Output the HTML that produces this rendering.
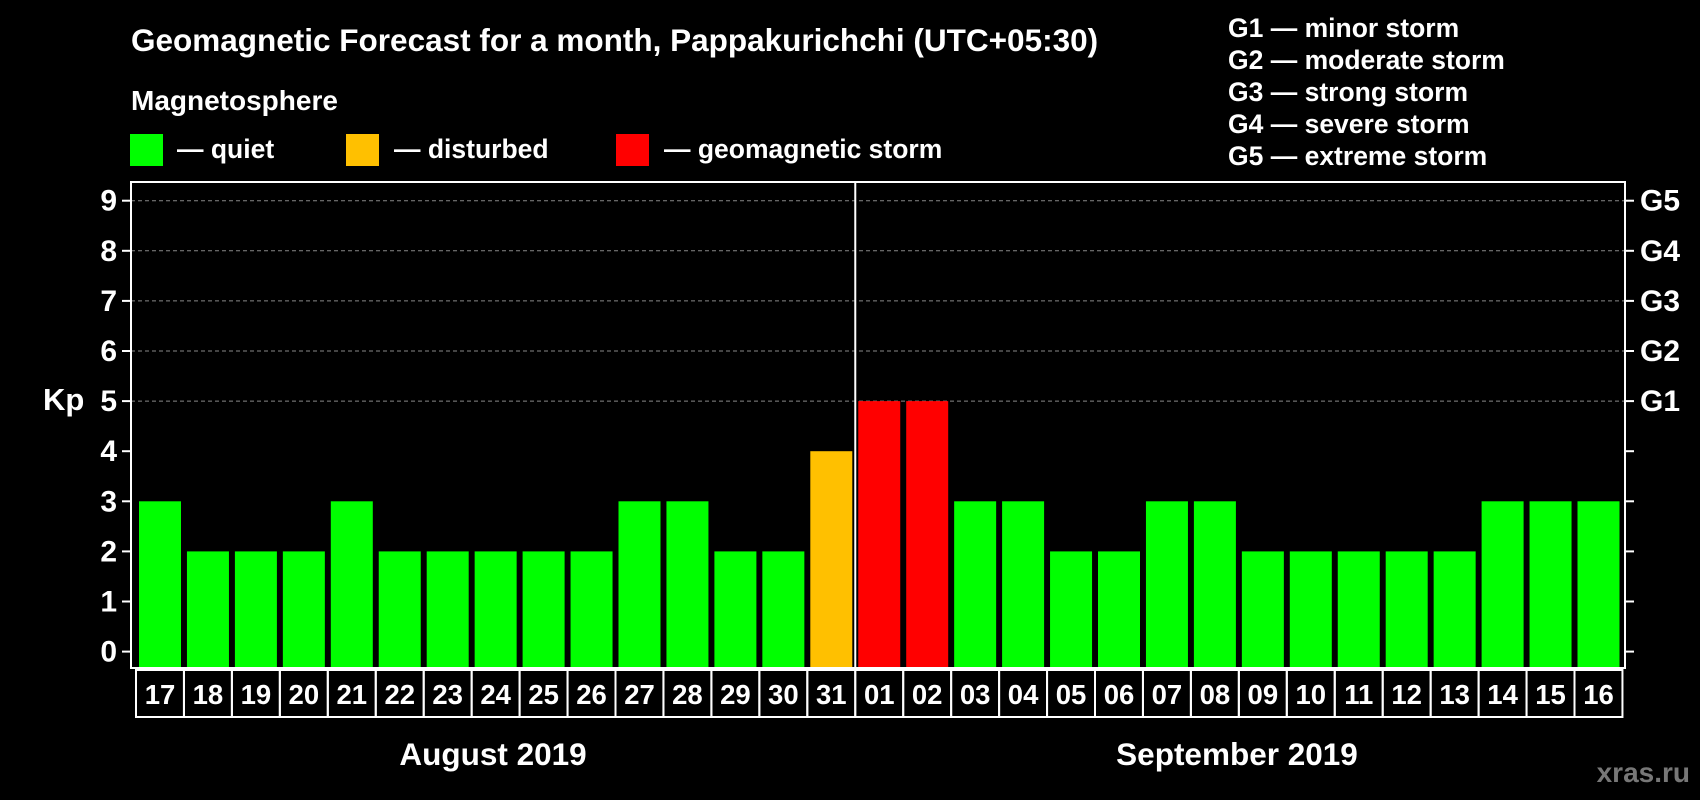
<!DOCTYPE html>
<html><head><meta charset="utf-8"><style>
html,body{margin:0;padding:0;background:#000;width:1700px;height:800px;overflow:hidden}
svg{display:block;font-family:"Liberation Sans",Arial,sans-serif;font-weight:bold}
</style></head><body>
<svg id="chart" width="1700" height="800" viewBox="0 0 1700 800">
<text x="131" y="51" fill="#fff" font-size="31.5">Geomagnetic Forecast for a month, Pappakurichchi (UTC+05:30)</text>
<text x="131" y="110" fill="#fff" font-size="28">Magnetosphere</text>
<rect x="130" y="134" width="33" height="32" fill="#00ff00"/>
<text x="177" y="158" fill="#fff" font-size="26.5">— quiet</text>
<rect x="346" y="134" width="33" height="32" fill="#ffc000"/>
<text x="394" y="158" fill="#fff" font-size="26.5">— disturbed</text>
<rect x="616" y="134" width="33" height="32" fill="#ff0000"/>
<text x="664" y="158" fill="#fff" font-size="26.5">— geomagnetic storm</text>
<g fill="#fff" font-size="26.5">
<text x="1228" y="37">G1 — minor storm</text>
<text x="1228" y="69">G2 — moderate storm</text>
<text x="1228" y="101">G3 — strong storm</text>
<text x="1228" y="133">G4 — severe storm</text>
<text x="1228" y="165">G5 — extreme storm</text>
</g>
<text x="43" y="410" fill="#fff" font-size="31">Kp</text>
<g id="grid"></g><g id="bars"></g><g id="axes"></g>
<text x="493" y="765" fill="#fff" font-size="31.5" text-anchor="middle">August 2019</text>
<text x="1237" y="765" fill="#fff" font-size="31.5" text-anchor="middle">September 2019</text>
<text x="1690" y="782" fill="#777" font-size="28" text-anchor="end">xras.ru</text>
</svg>
<script>
const days=["17","18","19","20","21","22","23","24","25","26","27","28","29","30","31","01","02","03","04","05","06","07","08","09","10","11","12","13","14","15","16"];
const kp=[3,2,2,2,3,2,2,2,2,2,3,3,2,2,4,5,5,3,3,2,2,3,3,2,2,2,2,2,3,3,3];
const yTicks=[0,1,2,3,4,5,6,7,8,9];
const gLabels=["G1","G2","G3","G4","G5"];
const NS="http://www.w3.org/2000/svg";
const L=131,R=1625,T=182,B=668,pitch=47.95,x0=139,bw=42;
const y=v=>651.6-v*50.1;
const xb=i=>x0+i*pitch;
function mk(t,a,p){const e=document.createElementNS(NS,t);for(const k in a)e.setAttribute(k,a[k]);p.appendChild(e);return e;}
const grid=document.getElementById('grid'),bars=document.getElementById('bars'),axes=document.getElementById('axes');
yTicks.forEach(v=>{
 if(v>=5){const g=mk('line',{x1:L,x2:R,y1:y(v),y2:y(v),stroke:'#888','stroke-dasharray':'4 3','stroke-width':1},grid);
 
 }
 mk('line',{x1:L-9,x2:L,y1:y(v),y2:y(v),stroke:'#fff','stroke-width':2},axes);
 mk('line',{x1:R,x2:R+9,y1:y(v),y2:y(v),stroke:'#fff','stroke-width':2},axes);
 const t=mk('text',{x:L-14,y:y(v)+10,fill:'#fff','font-size':30,'text-anchor':'end'},axes);t.textContent=v;
 
 
});
gLabels.forEach((g,i)=>{const t=mk('text',{x:R+15,y:y(5+i)+10,fill:'#fff','font-size':30},axes);t.textContent=g;
 
 });
kp.forEach((v,i)=>{
 const c=v>=5?'#ff0000':(v>=4?'#ffc000':'#00ff00');
 const r=mk('rect',{x:xb(i),y:y(v),width:bw,height:B-y(v),fill:c},bars);
 
 
 const bx=mk('rect',{x:xb(i)-3,y:B+2,width:pitch,height:47,fill:'none',stroke:'#fff','stroke-width':2},axes);
 
 
 const t=mk('text',{x:xb(i)+bw/2,y:B+36,fill:'#fff','font-size':27.5,'text-anchor':'middle'},axes);t.textContent=days[i];
 
 
});
const fr=mk('rect',{x:L,y:T,width:R-L,height:B-T,fill:'none',stroke:'#fff','stroke-width':2},axes);


const sepX=(xb(14)+bw+xb(15))/2;
const sp=mk('line',{x1:sepX,x2:sepX,y1:T,y2:B,stroke:'#fff','stroke-width':2},axes);


</script>
</body></html>
